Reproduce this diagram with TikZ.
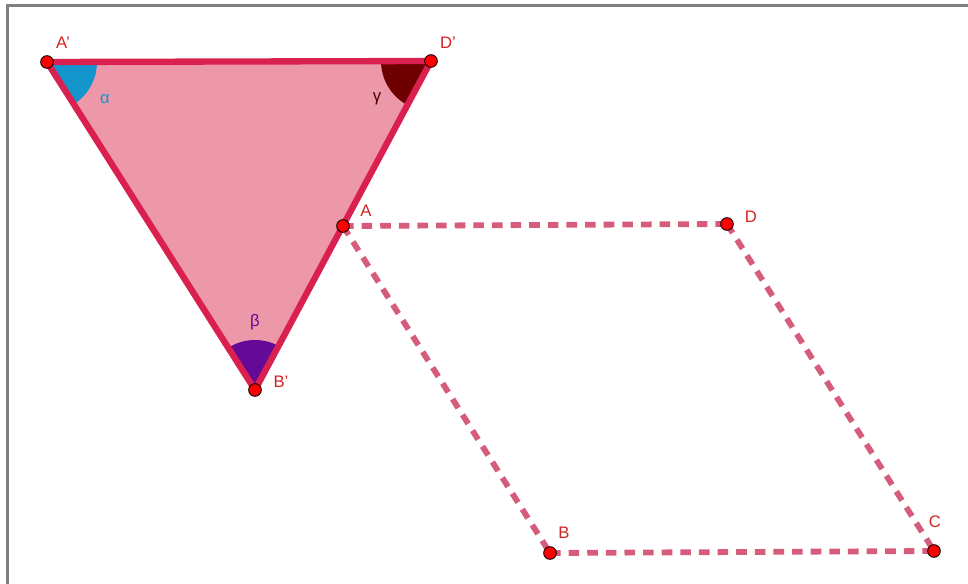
\documentclass[tikz,border=0pt]{standalone}
\usepackage{fontspec}
\setmainfont{Liberation Sans}
\usepackage{xcolor}
\usepackage{tikz}
\usetikzlibrary{angles, positioning, calc}
\definecolor{triFill}{RGB}{236,152,168}
\definecolor{triEdge}{RGB}{218,32,78}
\definecolor{quadEdge}{RGB}{214,92,124}
\definecolor{labelRed}{RGB}{210,35,35}
\definecolor{alphaBlue}{RGB}{20,150,205}
\definecolor{gammaRed}{RGB}{110,0,0}
\definecolor{betaPurple}{RGB}{100,10,150}
\newcommand{\pr}{\symbol{39}}
\tikzset{
  dot/.style={circle, fill=red, draw=black, line width=0.5pt, inner sep=0pt, minimum size=7.2pt},
  ptlabel/.style={text=labelRed, font=\fontsize{9.5}{11}\selectfont, inner sep=0pt},
  anglabel/.style={font=\fontsize{9.5}{11}\selectfont, inner sep=0pt}
}

\begin{document}
\begin{tikzpicture}[x=0.02cm, y=-0.02cm]

\useasboundingbox (0,0) rectangle (968,584);

% --- Frame ---
\draw[gray, line width=1.7pt] (7.5,584) -- (7.5,5.5) -- (968,5.5);

% --- Points ---
\coordinate (Ap) at (47,62);
\coordinate (Dp) at (431,61);
\coordinate (Bp) at (255,390);
\coordinate (A) at (343,226);
\coordinate (D) at (727,224);
\coordinate (B) at (550,553);
\coordinate (C) at (934,551);

% --- Triangle A'B'D' ---
\fill[triFill] (Ap) -- (Dp) -- (Bp) -- cycle;
\pic[fill=alphaBlue, angle radius=1cm] {angle=Bp--Ap--Dp};
\pic[fill=gammaRed, angle radius=1cm] {angle=Ap--Dp--Bp};
\pic[fill=betaPurple, angle radius=1cm] {angle=Dp--Bp--Ap};
\draw[triEdge, line width=3.6pt, line join=round] (Ap) -- (Dp) -- (Bp) -- cycle;

% --- Parallelogram ABCD ---
\draw[quadEdge, line width=3.3pt, dash pattern=on 6pt off 4.6pt] (A) -- (D);
\draw[quadEdge, line width=3.3pt, dash pattern=on 6pt off 4.6pt] (D) -- (C);
\draw[quadEdge, line width=3.3pt, dash pattern=on 6pt off 4.6pt] (A) -- (B);
\draw[quadEdge, line width=3.3pt, dash pattern=on 6pt off 4.6pt] (B) -- (C);

% --- Dots ---
\foreach \p in {Ap, Dp, Bp, A, D, B, C}
  \node[dot] at (\p) {};

% --- Labels ---
\node[ptlabel] (lAp) at (63,43) {A\pr};
\node[ptlabel] (lDp) at (448,43) {D\pr};
\node[ptlabel] (lBp) at (281,382) {B\pr};
\node[ptlabel] (lA) at (366,211) {A};
\node[ptlabel] (lD) at (751,217) {D};
\node[ptlabel] (lB) at (564,533) {B};
\node[ptlabel] (lC) at (935,522) {C};

\node[anglabel, text=alphaBlue] (alpha) at (105,99) {α};
\node[anglabel, text=gammaRed!70!black] (gamma) at (377,99) {γ};
\node[anglabel, text=betaPurple] (beta) at (255,322) {β};

\end{tikzpicture}
\end{document}
